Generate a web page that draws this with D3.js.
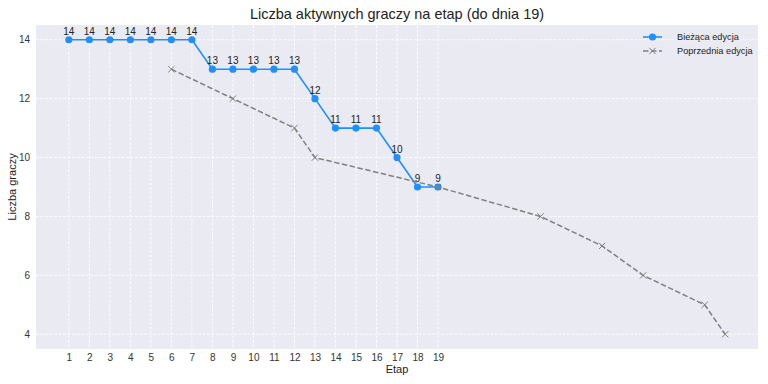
<!DOCTYPE html>
<html><head><meta charset="utf-8">
<script src="https://cdn.jsdelivr.net/npm/d3@7"></script>
<style>body{margin:0;background:#fff}svg{display:block}</style>
</head><body><svg id="c" width="768" height="384"></svg>
<script>
const curStages = [1,2,3,4,5,6,7,8,9,10,11,12,13,14,15,16,17,18,19];
const curPlayers = [14,14,14,14,14,14,14,13,13,13,13,13,12,11,11,11,10,9,9];
const prevStages = [6,9,12,13,19,24,27,29,32,33];
const prevPlayers = [13,12,11,10,9,8,7,6,5,4];
const xTicks = [1,2,3,4,5,6,7,8,9,10,11,12,13,14,15,16,17,18,19];
const yTicks = [4,6,8,10,12,14];
const title = "Liczba aktywnych graczy na etap (do dnia 19)";
const xLabel = "Etap", yLabel = "Liczba graczy";
const legendLabels = ["Bieżąca edycja","Poprzednia edycja"];

const svg = d3.select("#c");
const font = "'Liberation Sans', Arial, sans-serif";
const L=36, R=758, T=25, B=349;
const x = d3.scaleLinear().domain([-0.6,34.6]).range([L,R]);
const y = d3.scaleLinear().domain([3.5,14.5]).range([B,T]);

svg.append("rect").attr("x",L).attr("y",T).attr("width",R-L).attr("height",B-T).attr("fill","#eaeaf2");
// grid
svg.append("g").selectAll("line").data(yTicks).join("line")
  .attr("x1",L).attr("x2",R).attr("y1",d=>y(d)).attr("y2",d=>y(d))
  .attr("stroke","#fff").attr("stroke-width",0.8).attr("stroke-dasharray","3,1.5");
svg.append("g").selectAll("line").data(xTicks).join("line")
  .attr("y1",T).attr("y2",B).attr("x1",d=>x(d)).attr("x2",d=>x(d))
  .attr("stroke","#fff").attr("stroke-width",0.8).attr("stroke-dasharray","3,1.5");

// axes
const xa = svg.append("g").attr("transform",`translate(0,${B})`)
  .call(d3.axisBottom(x).tickValues(xTicks).tickSize(0).tickPadding(5).tickFormat(d3.format("d")));
const ya = svg.append("g").attr("transform",`translate(${L},0)`)
  .call(d3.axisLeft(y).tickValues(yTicks).tickSize(0).tickPadding(6).tickFormat(d3.format("d")));
[xa,ya].forEach(a=>{a.select(".domain").remove();
  a.selectAll("text").attr("font-family",font).attr("font-size",10).attr("fill","#333");});

// current line
const line = d3.line().x(d=>x(d[0])).y(d=>y(d[1]));
const cur = curStages.map((s,i)=>[s,curPlayers[i]]);
const prev = prevStages.map((s,i)=>[s,prevPlayers[i]]);
svg.append("path").datum(cur).attr("d",line).attr("fill","none").attr("stroke","#1e90ff").attr("stroke-width",1.6);
svg.append("g").selectAll("circle").data(cur).join("circle")
  .attr("cx",d=>x(d[0])).attr("cy",d=>y(d[1])).attr("r",3.6).attr("fill","#1e90ff");
svg.append("g").selectAll("text").data(cur).join("text")
  .attr("x",d=>x(d[0])).attr("y",d=>y(d[1])-5).attr("text-anchor","middle")
  .attr("font-family",font).attr("font-size",10).attr("fill","#222").text(d=>d[1]);

// previous line
svg.append("path").datum(prev).attr("d",line).attr("fill","none").attr("stroke","#808080")
  .attr("stroke-width",1.5).attr("stroke-dasharray","5.5,2.5");
const xm = d3.symbol().type(d3.symbolX).size(28);
svg.append("g").selectAll("path").data(prev).join("path")
  .attr("transform",d=>`translate(${x(d[0])},${y(d[1])})`).attr("d",xm)
  .attr("fill","none").attr("stroke","#808080").attr("stroke-width",1);

// title & labels
svg.append("text").attr("x",(L+R)/2).attr("y",19).attr("text-anchor","middle")
  .attr("font-family",font).attr("font-size",14.5).attr("fill","#222").text(title);
svg.append("text").attr("x",(L+R)/2).attr("y",373).attr("text-anchor","middle")
  .attr("font-family",font).attr("font-size",11).attr("fill","#222").text(xLabel);
svg.append("text").attr("transform",`translate(16,${(T+B)/2}) rotate(-90)`).attr("text-anchor","middle")
  .attr("font-family",font).attr("font-size",11).attr("fill","#222").text(yLabel);

// legend
const lg = svg.append("g");
lg.append("line").attr("x1",643).attr("x2",662).attr("y1",37).attr("y2",37).attr("stroke","#1e90ff").attr("stroke-width",1.6);
lg.append("circle").attr("cx",652.5).attr("cy",37).attr("r",3.6).attr("fill","#1e90ff");
lg.append("line").attr("x1",643).attr("x2",662).attr("y1",51).attr("y2",51).attr("stroke","#808080").attr("stroke-width",1.5).attr("stroke-dasharray","5.5,2.5");
lg.append("path").attr("transform","translate(652.5,51)").attr("d",xm).attr("fill","none").attr("stroke","#808080").attr("stroke-width",1);
lg.selectAll("text").data(legendLabels).join("text")
  .attr("x",677).attr("y",(d,i)=>37+i*14+3.3).attr("font-family",font).attr("font-size",9.2).attr("fill","#222").text(d=>d);
</script></body></html>
